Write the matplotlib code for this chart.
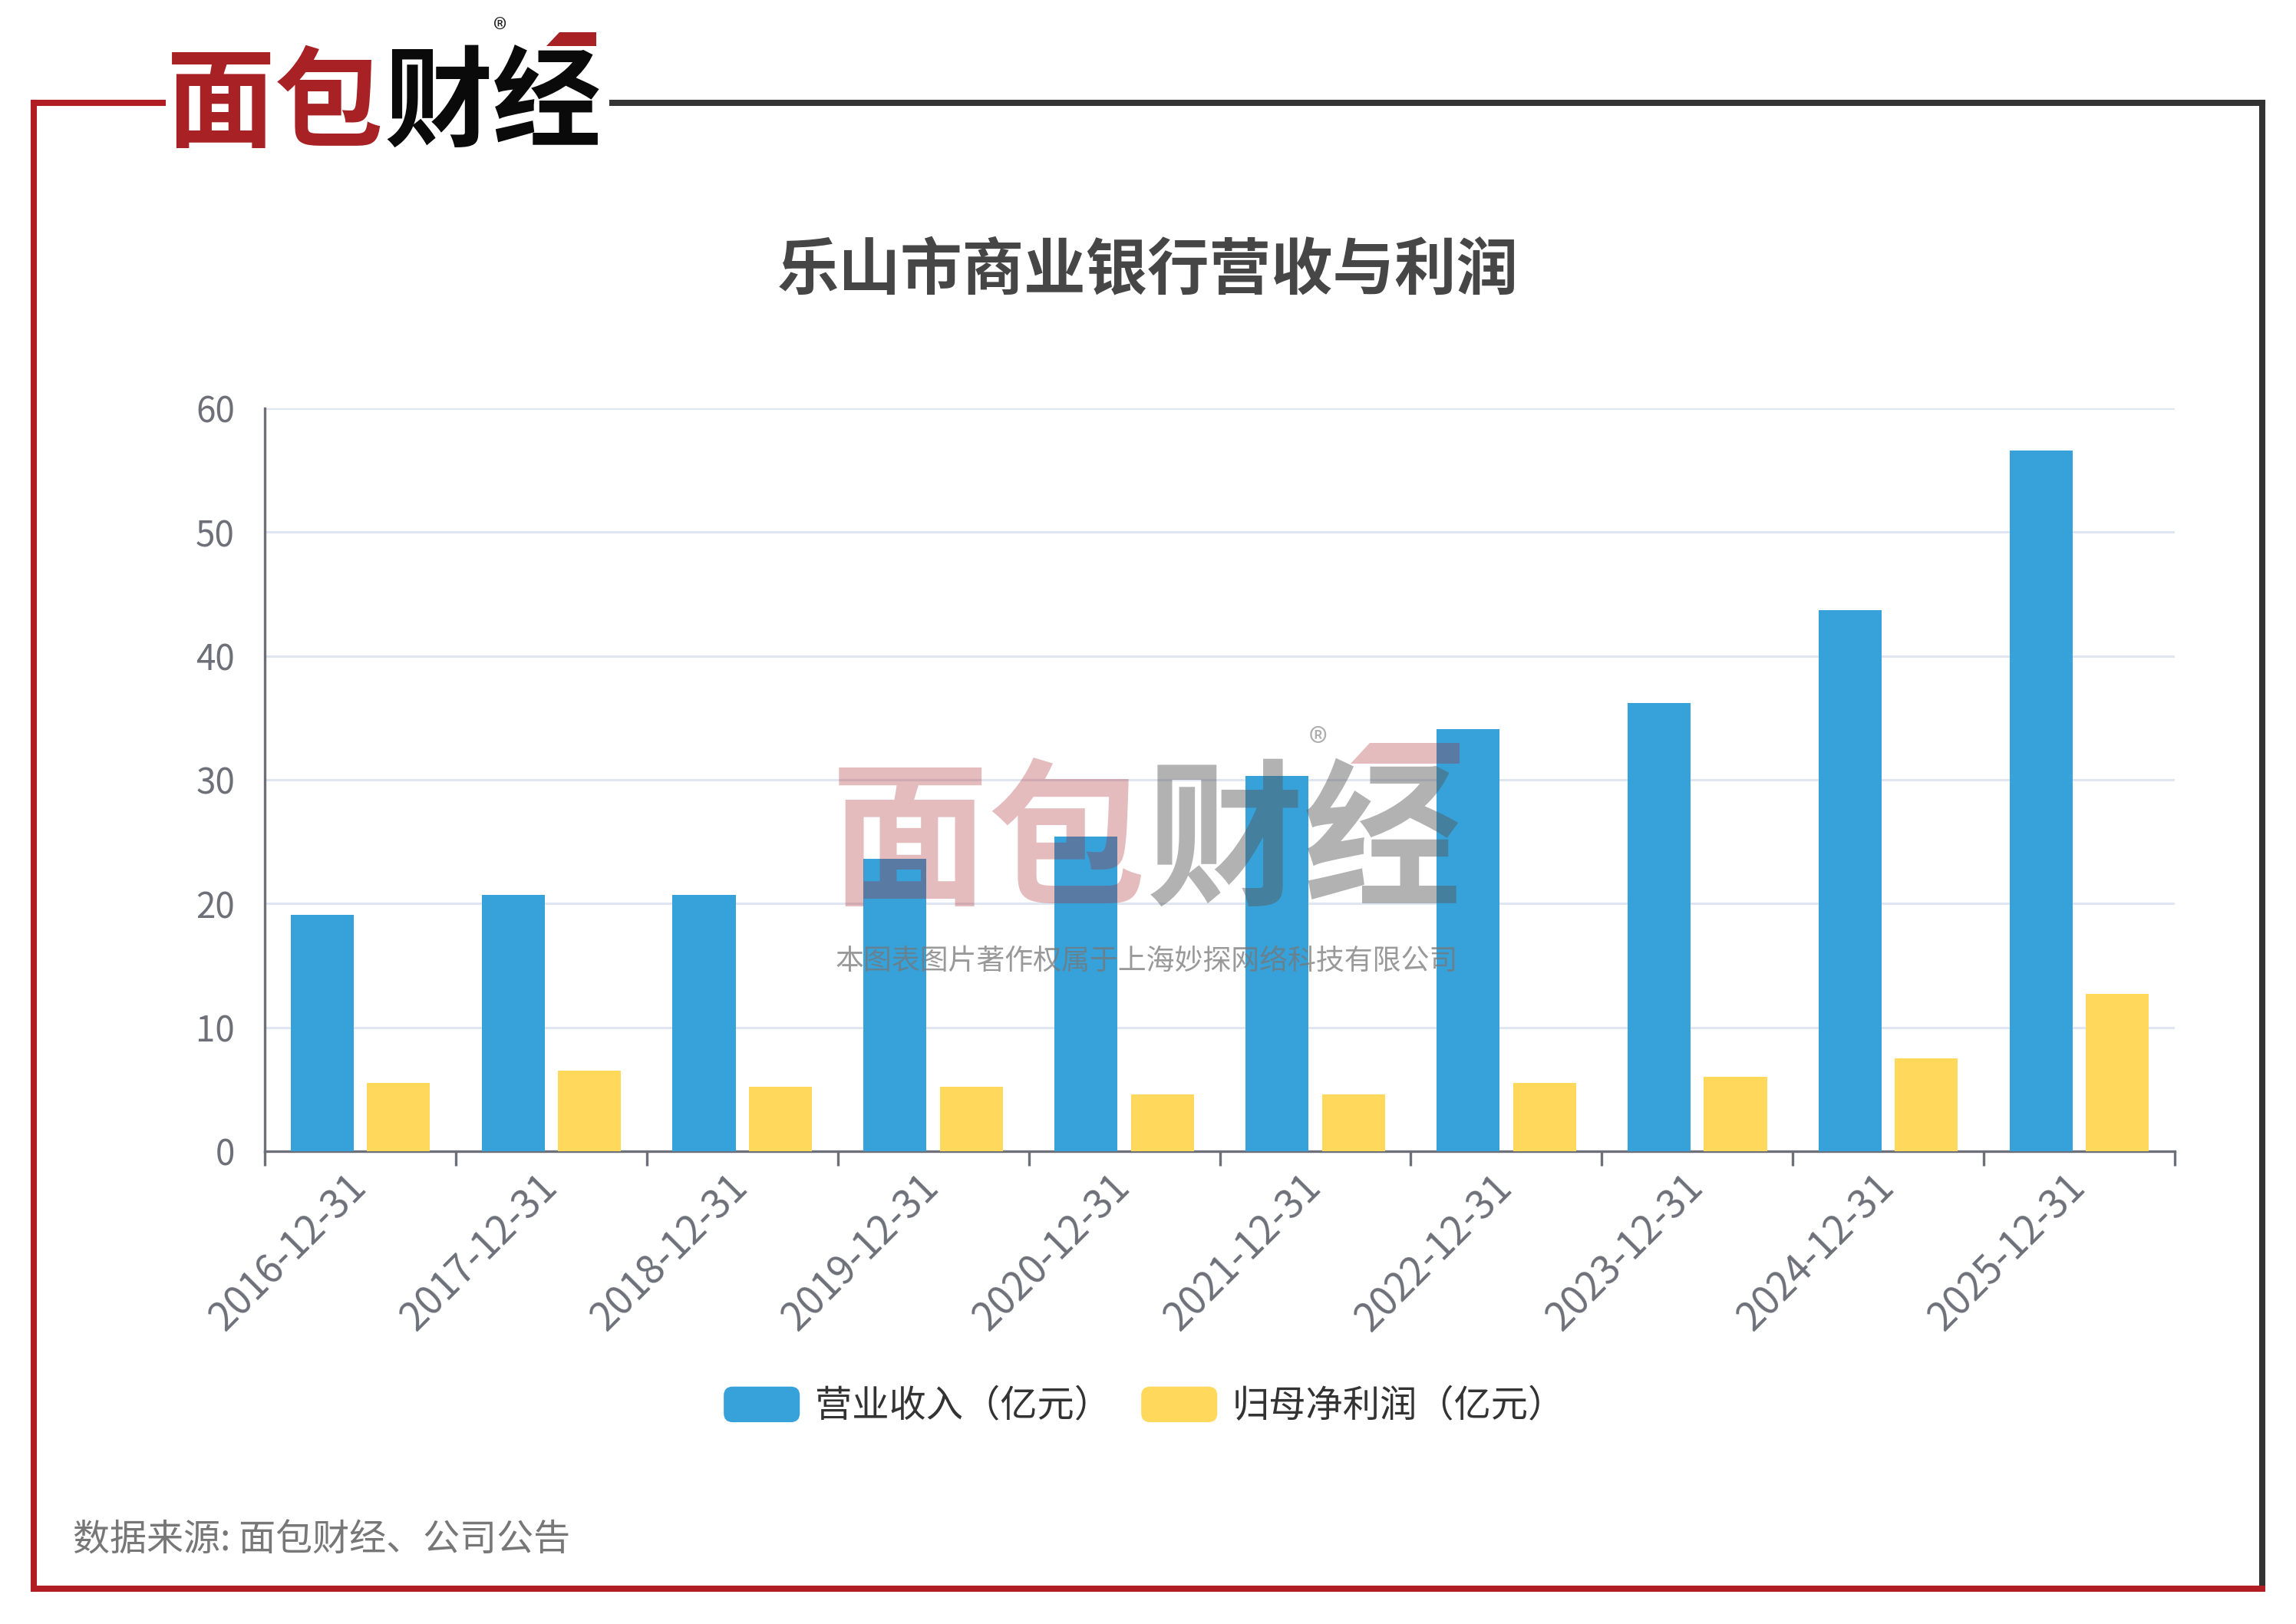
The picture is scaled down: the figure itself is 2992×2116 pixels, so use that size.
import numpy as np
import matplotlib
matplotlib.use("Agg")
import matplotlib.pyplot as plt
from matplotlib.lines import Line2D
from matplotlib.patches import FancyBboxPatch, Polygon
from matplotlib.legend_handler import HandlerPatch

plt.rcParams['font.family'] = ['Noto Sans CJK SC', 'DejaVu Sans']

# data (亿元)
dates = ["2016-12-31", "2017-12-31", "2018-12-31", "2019-12-31", "2020-12-31",
         "2021-12-31", "2022-12-31", "2023-12-31", "2024-12-31", "2025-12-31"]
revenue = [19.1, 20.7, 20.7, 23.6, 25.4, 30.3, 34.1, 36.2, 43.7, 56.6]
profit = [5.5, 6.5, 5.2, 5.2, 4.6, 4.6, 5.5, 6.0, 7.5, 12.7]
series_names = ["营业收入（亿元）", "归母净利润（亿元）"]

BLUE = "#37A2DA"
YELLOW = "#FFD85C"
AXIS = "#6E7079"
RED = "#B01E24"
DARK = "#333333"

W, H = 2992, 2116
fig = plt.figure(figsize=(W / 200, H / 200), dpi=200)
fig.patch.set_facecolor("white")


def fx(px):
    return px / W


def fy(py):
    return 1 - py / H


# --- frame ---
lw = 2.9
fig.add_artist(Line2D([fx(44), fx(44)], [fy(134), fy(2070)], color=RED, lw=lw, solid_capstyle='projecting'))
fig.add_artist(Line2D([fx(798), fx(2948)], [fy(134), fy(134)], color=DARK, lw=lw, solid_capstyle='projecting'))
fig.add_artist(Line2D([fx(2948), fx(2948)], [fy(134), fy(2062)], color=DARK, lw=lw, solid_capstyle='projecting'))
fig.add_artist(Line2D([fx(44), fx(2948)], [fy(2070), fy(2070)], color=RED, lw=lw, solid_capstyle='projecting'))
fig.add_artist(Line2D([fx(44), fx(212)], [fy(134), fy(134)], color=RED, lw=lw, solid_capstyle='projecting'))

# --- logo top-left ---
fig.text(fx(500), fy(139), "面包", color="#A82125", fontsize=51, fontweight='heavy',
         ha='right', va='center')
fig.text(fx(500), fy(139), "财经", color="#0A0A0A", fontsize=51, fontweight='heavy',
         ha='left', va='center')
fig.text(fx(652), fy(42), "®", color="#222222", fontsize=13, ha='center', va='center')
fig.add_artist(Polygon([[fx(712), fy(60)], [fx(729), fy(42)], [fx(777), fy(42)], [fx(777), fy(60)]],
                       closed=True, transform=fig.transFigure, color="#A82125", lw=0))

# --- title ---
fig.text(0.5, fy(353), "乐山市商业银行营收与利润", fontsize=29, fontweight='bold',
         color="#464646", ha='center', va='center')

# --- chart ---
ax = fig.add_axes([fx(345), fy(1500), fx(2834) - fx(345), fy(532) - fy(1500)])
x = np.arange(len(dates))
bw = 0.33
ax.bar(x - 0.2, revenue, width=bw, color=BLUE, label=series_names[0], zorder=3)
ax.bar(x + 0.2, profit, width=bw, color=YELLOW, label=series_names[1], zorder=3)

ax.set_xlim(-0.5, len(dates) - 0.5)
ax.set_ylim(0, 60)
ax.set_yticks(np.arange(0, 61, 10))
ax.yaxis.grid(True, color="#E0E6F1", lw=1.1, zorder=0)
ax.set_axisbelow(True)

for s in ["top", "right"]:
    ax.spines[s].set_visible(False)
ax.spines["left"].set_color(AXIS)
ax.spines["bottom"].set_color(AXIS)
ax.spines["left"].set_linewidth(1.2)
ax.spines["bottom"].set_linewidth(1.2)

ax.set_xticks(x)
ax.set_xticklabels(dates, rotation=45, ha='right', va='center', rotation_mode='anchor')
ax.set_xticks(np.arange(-0.5, len(dates)), minor=True)
ax.tick_params(axis='x', which='major', length=0, pad=14, labelsize=18.5, labelcolor=AXIS)
ax.tick_params(axis='x', which='minor', length=7, width=1.2, color=AXIS, direction='out')
ax.tick_params(axis='y', length=0, pad=14, labelsize=16.5, labelcolor=AXIS)


# legend with rounded swatches
def rounded_patch(legend, orig_handle, xdescent, ydescent, width, height, fontsize):
    return FancyBboxPatch((-xdescent, -ydescent), width, height,
                          boxstyle="round,pad=0,rounding_size=%f" % (height * 0.25))


leg = fig.legend(handles=ax.patches[:1] + ax.patches[len(dates):len(dates) + 1],
                 labels=series_names, loc='center', bbox_to_anchor=(0.4985, fy(1832)),
                 ncol=2, frameon=False, fontsize=17.4, handlelength=2.05, handleheight=1.1,
                 handletextpad=0.4, columnspacing=0.82,
                 handler_map={matplotlib.patches.Rectangle: HandlerPatch(patch_func=rounded_patch)})
for t in leg.get_texts():
    t.set_color("#333333")

# --- watermark ---
fig.text(fx(1494), fy(1103), "面包", color="#A82125", alpha=0.3, fontsize=74,
         fontweight='heavy', ha='right', va='center', zorder=10)
fig.text(fx(1494), fy(1103), "财经", color="#555555", alpha=0.45, fontsize=74,
         fontweight='heavy', ha='left', va='center', zorder=10)
fig.text(fx(1718), fy(972), "®", color="#999999", alpha=0.8, fontsize=18,
         ha='center', va='center', zorder=10)
fig.add_artist(Polygon([[fx(1760), fy(995)], [fx(1785), fy(968)], [fx(1902), fy(968)], [fx(1902), fy(995)]],
                       closed=True, transform=fig.transFigure, color="#A82125", alpha=0.3, lw=0, zorder=10))
fig.text(fx(1494), fy(1252), "本图表图片著作权属于上海妙探网络科技有限公司", color="#777777",
         alpha=0.75, fontsize=13.3, ha='center', va='center', zorder=10)

# --- footer ---
fig.text(fx(95), fy(2007), "数据来源: 面包财经、公司公告", color="#777777", fontsize=17.3,
         ha='left', va='center')

fig.savefig("out.png", dpi=200, facecolor="white")
